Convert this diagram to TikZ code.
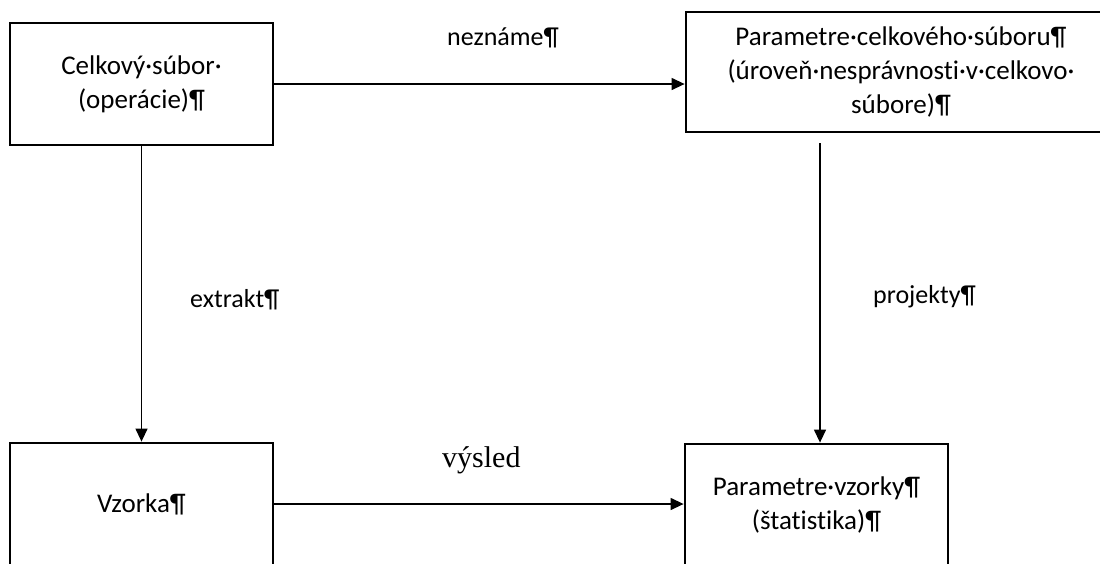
\documentclass[tikz,border=0pt]{standalone}
\usepackage{fontspec}
\setmainfont{Carlito}[Ligatures=NoCommon]
\newfontfamily\serifface{Liberation Serif}
\usetikzlibrary{arrows.meta,calc}

\tikzset{
  box/.style={draw, line width=2.8pt, minimum width=263pt, minimum height=122pt,
    align=center, inner sep=0pt, font=\fontsize{27}{34}\selectfont},
  conn/.style={line width=1.3pt, -{Triangle[length=13pt,width=12pt]}},
  lbl/.style={anchor=base west, inner sep=0pt, font=\fontsize{26}{33}\selectfont},
}

\begin{document}
\begin{tikzpicture}[x=1pt,y=-1pt]
  \useasboundingbox (0,0) rectangle (1100,563);
  \clip (0,0) rectangle (1100,563);

  % the four boxes
  \node[box] (pop) at (141.5,84) {Celkový·súbor·\\(operácie)¶};
  \node[box, minimum width=430pt, minimum height=120pt] (popparam) at (901,72)
    {Parametre·celkového·súboru¶\\(úroveň·nesprávnosti·v·celkovo·\\súbore)¶};
  \node[box] (sample) at (141.5,504) {Vzorka¶};
  \node[box] (sampparam) at (816.5,505) {Parametre·vzorky¶\\(štatistika)¶};

  % connectors
  \draw[conn] (pop.east) -- (pop.east -| popparam.west);
  \draw[conn] (pop.south) -- (sample.north);
  \coordinate (projtop) at (820,143);
  \draw[conn] (projtop) -- (projtop |- sampparam.north);
  \draw[conn] (sample.east) -- (sample.east -| sampparam.west);

  % connector labels
  \node[lbl] (lneznam) at (447,45) {neznáme¶};
  \node[lbl] (lextr) at (190,307) {extrakt¶};
  \node[lbl] (lproj) at (873,303) {projekty¶};
  \node[anchor=base west, inner sep=0pt, font=\serifface\fontsize{30}{36}\selectfont]
    (lvysl) at (442,467) {výsled};
\end{tikzpicture}
\end{document}
